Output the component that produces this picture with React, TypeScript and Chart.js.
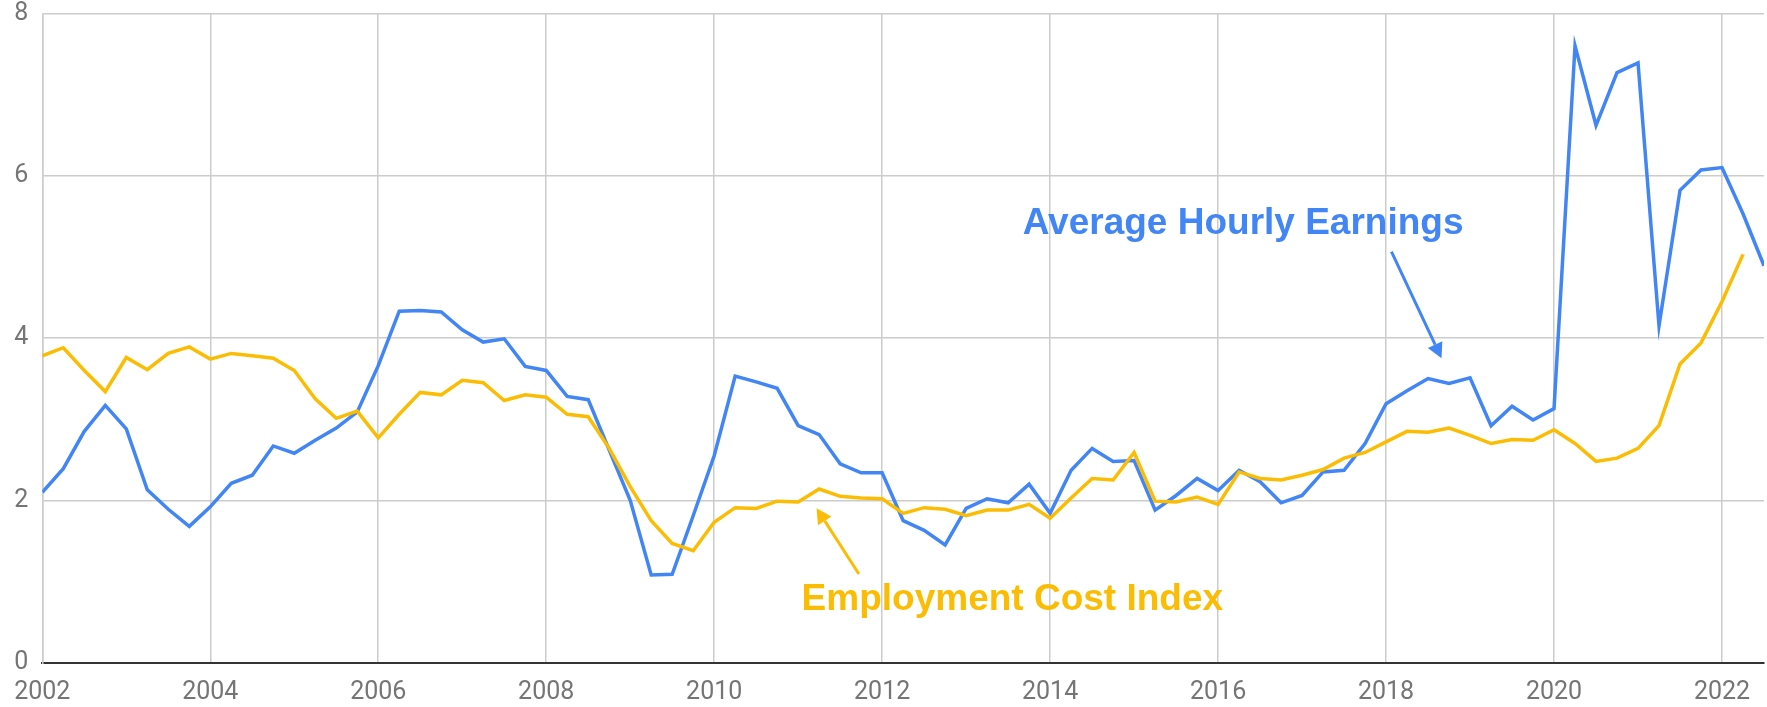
import React, { useEffect, useRef } from 'react';
import { Chart, registerables } from 'chart.js';

Chart.register(...registerables);

// ---------- data ----------
const START_YEAR = 2002; // first quarter (Q1 2002)
const X_MIN = 2002;
const X_MAX = 2022.5;
const X_TICK_YEARS = [2002, 2004, 2006, 2008, 2010, 2012, 2014, 2016, 2018, 2020, 2022];
const Y_TICKS = [0, 2, 4, 6, 8];

const AHE_LABEL = 'Average Hourly Earnings';
const ECI_LABEL = 'Employment Cost Index';

// Average Hourly Earnings, % y/y, quarterly 2002 Q1 .. 2022 Q3
const AHE = [
  2.10, 2.39, 2.85, 3.17,
  2.88, 2.13, 1.89, 1.68,
  1.92, 2.21, 2.31, 2.67,
  2.58, 2.74, 2.89, 3.09,
  3.66, 4.33, 4.34, 4.32,
  4.10, 3.95, 3.99, 3.65,
  3.60, 3.28, 3.24, 2.62,
  2.00, 1.08, 1.09, 1.81,
  2.55, 3.53, 3.46, 3.38,
  2.92, 2.81, 2.45, 2.34,
  2.34, 1.75, 1.63, 1.45,
  1.90, 2.02, 1.97, 2.20,
  1.84, 2.37, 2.64, 2.48,
  2.49, 1.88, 2.06, 2.27,
  2.12, 2.37, 2.23, 1.97,
  2.06, 2.35, 2.37, 2.70,
  3.19, 3.35, 3.50, 3.44,
  3.51, 2.92, 3.16, 2.99,
  3.13, 7.60, 6.62, 7.27,
  7.39, 4.15, 5.82, 6.07,
  6.10, 5.53, 4.89,
];

// Employment Cost Index, % y/y, quarterly 2002 Q1 .. 2022 Q2
const ECI = [
  3.78, 3.88, 3.60, 3.34,
  3.76, 3.61, 3.81, 3.89,
  3.74, 3.81, 3.78, 3.75,
  3.60, 3.25, 3.01, 3.10,
  2.77, 3.06, 3.33, 3.30,
  3.48, 3.45, 3.23, 3.30,
  3.27, 3.06, 3.03, 2.64,
  2.17, 1.75, 1.47, 1.38,
  1.73, 1.91, 1.90, 1.99,
  1.98, 2.14, 2.05, 2.03,
  2.02, 1.84, 1.91, 1.89,
  1.81, 1.88, 1.88, 1.95,
  1.78, 2.03, 2.27, 2.25,
  2.59, 1.99, 1.98, 2.04,
  1.95, 2.35, 2.27, 2.25,
  2.31, 2.38, 2.52, 2.59,
  2.72, 2.85, 2.84, 2.89,
  2.80, 2.70, 2.75, 2.74,
  2.87, 2.70, 2.48, 2.52,
  2.64, 2.92, 3.68, 3.94,
  4.45, 5.03,
];

// ---------- styles ----------
const BLUE = '#4285F4';
const YELLOW = '#FBBC04';
const GRID = '#cccccc';
const AXIS = '#333333';
const TICK_COLOR = '#757575';
const TICK_FONT_SIZE = 25;
const LABEL_FONT = 'bold 37px "Liberation Sans", Arial, sans-serif';

// annotation placement in data coordinates (year, percent)
const ANNOTATIONS = [
  { text: AHE_LABEL, color: BLUE, at: [2016.298, 5.281], from: [2018.064, 5.063], to: [2018.66, 3.75] },
  { text: ECI_LABEL, color: YELLOW, at: [2013.55, 0.649], from: [2011.723, 1.093], to: [2011.219, 1.902] },
];

const toPoints = (arr: number[]) => arr.map((v, i) => ({ x: START_YEAR + i / 4, y: v }));

const annotationPlugin = {
  id: 'labelArrows',
  afterDatasetsDraw(chart: any) {
    const { ctx } = chart;
    const xs = chart.scales.x;
    const ys = chart.scales.y;
    const px = (p: number[]) => [xs.getPixelForValue(p[0]), ys.getPixelForValue(p[1])];
    ANNOTATIONS.forEach((a) => {
      ctx.save();
      ctx.font = LABEL_FONT;
      ctx.fillStyle = a.color;
      ctx.textAlign = 'center';
      ctx.textBaseline = 'alphabetic';
      const [tx, ty] = px(a.at);
      ctx.fillText(a.text, tx, ty);

      const [x1, y1] = px(a.from);
      const [x2, y2] = px(a.to);
      const ang = Math.atan2(y2 - y1, x2 - x1);
      const headLen = 15;
      const headHalf = 8;
      const bx = x2 - headLen * Math.cos(ang);
      const by = y2 - headLen * Math.sin(ang);
      ctx.strokeStyle = a.color;
      ctx.lineWidth = 3;
      ctx.beginPath();
      ctx.moveTo(x1, y1);
      ctx.lineTo(bx, by);
      ctx.stroke();
      ctx.beginPath();
      ctx.moveTo(x2, y2);
      ctx.lineTo(bx + headHalf * Math.sin(ang), by - headHalf * Math.cos(ang));
      ctx.lineTo(bx - headHalf * Math.sin(ang), by + headHalf * Math.cos(ang));
      ctx.closePath();
      ctx.fill();
      ctx.restore();
    });
  },
};

export default function App() {
  const canvasRef = useRef<HTMLCanvasElement | null>(null);

  useEffect(() => {
    const canvas = canvasRef.current;
    if (!canvas) return;
    const chart = new Chart(canvas, {
      type: 'line',
      data: {
        datasets: [
          {
            label: ECI_LABEL,
            data: toPoints(ECI),
            borderColor: YELLOW,
            backgroundColor: YELLOW,
            borderWidth: 3.5,
            pointRadius: 0,
            tension: 0,
            order: 0,
          },
          {
            label: AHE_LABEL,
            data: toPoints(AHE),
            borderColor: BLUE,
            backgroundColor: BLUE,
            borderWidth: 3.5,
            pointRadius: 0,
            tension: 0,
            order: 1,
          },
        ],
      },
      options: {
        animation: false,
        responsive: false,
        events: [],
        layout: { padding: { top: 13.3, right: 3, left: 0, bottom: 0 } },
        plugins: {
          legend: { display: false },
          tooltip: { enabled: false },
        },
        scales: {
          x: {
            type: 'linear',
            min: X_MIN,
            max: X_MAX,
            afterBuildTicks: (scale: any) => {
              scale.ticks = X_TICK_YEARS.map((v) => ({ value: v }));
            },
            afterFit: (scale: any) => {
              scale.height = 44.3;
              scale.paddingLeft = 0;
              scale.paddingRight = 0;
              scale.paddingTop = 0;
              scale.paddingBottom = 0;
            },
            grid: { color: GRID, lineWidth: 1.5, drawTicks: false },
            border: { display: true, color: AXIS, width: 2 },
            ticks: {
              color: TICK_COLOR,
              font: { family: 'Roboto', size: TICK_FONT_SIZE, lineHeight: 1 },
              padding: 18,
              maxRotation: 0,
              autoSkip: false,
              callback: (v: any) => String(v),
            },
          },
          y: {
            type: 'linear',
            min: 0,
            max: 8,
            afterBuildTicks: (scale: any) => {
              scale.ticks = Y_TICKS.map((v) => ({ value: v }));
            },
            afterFit: (scale: any) => {
              scale.width = 42.3;
              scale.paddingLeft = 0;
              scale.paddingRight = 0;
              scale.paddingTop = 0;
              scale.paddingBottom = 0;
            },
            grid: {
              color: (c: any) => (c.tick && c.tick.value === 0 ? AXIS : GRID),
              lineWidth: (c: any) => (c.tick && c.tick.value === 0 ? 2 : 1.5),
              drawTicks: false,
            },
            border: { display: true, color: GRID, width: 1.5 },
            ticks: {
              color: TICK_COLOR,
              font: { family: 'Roboto', size: TICK_FONT_SIZE, lineHeight: 1 },
              padding: 14,
              callback: (v: any) => String(v),
            },
          },
        },
      },
      plugins: [annotationPlugin],
    } as any);
    return () => chart.destroy();
  }, []);

  return (
    <div style={{ position: 'absolute', left: 0, top: 0, width: 1767, height: 707, background: '#fff' }}>
      <canvas ref={canvasRef} width={1767} height={707} style={{ display: 'block' }} />
    </div>
  );
}
